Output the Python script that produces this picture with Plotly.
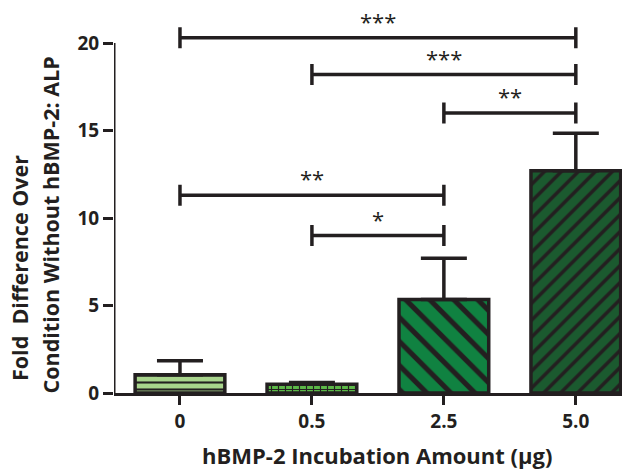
import plotly.graph_objects as go

categories = ["0", "0.5", "2.5", "5.0"]
means = [1.05, 0.5, 5.35, 12.7]
err_up = [0.8, 0.1, 2.35, 2.15]
fill_colors = ["#a8d48c", "#5cb848", "#108241", "#1b5a2f"]
pattern_shapes = ["-", "+", "\\", "/"]
pattern_sizes = [7, 7, 17, 12]

# significance brackets: (left index, right index, y, label)
brackets = [
    (0, 3, 20.3, "***"),
    (1, 3, 18.2, "***"),
    (2, 3, 16.0, "**"),
    (0, 2, 11.3, "**"),
    (1, 2, 9.0, "*"),
]

y_ticks = [0, 5, 10, 15, 20]
x_title = "hBMP-2 Incubation Amount (μg)"
y_title_lines = ["Fold  Difference Over", "Condition Without hBMP-2: ALP"]

INK = "#231f20"
FONT = "Open Sans"

x = list(range(len(categories)))

fig = go.Figure()
for i in x:
    fig.add_trace(go.Bar(
        x=[i], y=[means[i]], width=0.68,
        marker=dict(
            color=fill_colors[i],
            line=dict(color=INK, width=3.5),
            pattern=dict(shape=pattern_shapes[i], size=pattern_sizes[i], solidity=0.3,
                         fgcolor=INK, fgopacity=1, fillmode="overlay"),
        ),
        error_y=dict(type="data", symmetric=False, array=[err_up[i]],
                     arrayminus=[0], color=INK, thickness=3.5, width=23),
    ))

shapes = []
for i0, i1, yv, lab in brackets:
    shapes.append(dict(type="line", x0=i0, x1=i1, y0=yv, y1=yv, xref="x", yref="y",
                       line=dict(color=INK, width=3.5)))
    for xi in (i0, i1):
        shapes.append(dict(type="line", x0=xi, x1=xi, y0=yv - 0.6, y1=yv + 0.6,
                           xref="x", yref="y", line=dict(color=INK, width=3.5)))
# y axis spine from 0 to 20
shapes.append(dict(type="line", x0=-0.5, x1=-0.5, y0=0, y1=y_ticks[-1], xref="x", yref="y",
                   line=dict(color=INK, width=3)))
fig.update_layout(shapes=shapes)

for i0, i1, yv, lab in brackets:
    fig.add_annotation(x=(i0 + i1) / 2, y=yv, xref="x", yref="y", text=lab,
                       showarrow=False, yshift=17,
                       font=dict(family=FONT, size=22, color=INK))

# axis titles (positioned in paper coords relative to plot area 508x385)
fig.add_annotation(x=-95 / 508, y=10 / 385, xref="paper", yref="paper",
                   text="<b>%s</b>" % y_title_lines[0], showarrow=False, textangle=-90,
                   font=dict(family=FONT, size=21.5, color=INK), xanchor="center", yanchor="bottom")
fig.add_annotation(x=-64 / 508, y=-3 / 385, xref="paper", yref="paper",
                   text="<b>%s</b>" % y_title_lines[1], showarrow=False, textangle=-90,
                   font=dict(family=FONT, size=21.5, color=INK), xanchor="center", yanchor="bottom")
fig.add_annotation(x=(377 - 114) / 508, y=-62 / 385, xref="paper", yref="paper",
                   text="<b>%s</b>" % x_title, showarrow=False,
                   font=dict(family=FONT, size=22, color=INK), xanchor="center", yanchor="middle")

fig.update_xaxes(
    range=[-0.5, 3.35], tickvals=x, ticktext=["<b>%s</b>" % c for c in categories],
    showline=True, linecolor=INK, linewidth=3,
    ticks="outside", ticklen=9, tickwidth=3, tickcolor=INK,
    tickfont=dict(family=FONT, size=19, color=INK),
    showgrid=False, zeroline=False,
)
fig.update_yaxes(
    range=[0, 22], tickvals=y_ticks, ticktext=["<b>%d</b>" % t for t in y_ticks],
    showline=False, ticks="outside", ticklen=10, tickwidth=3, tickcolor=INK,
    tickfont=dict(family=FONT, size=19, color=INK),
    showgrid=False, zeroline=False,
)

fig.update_layout(
    width=634, height=472,
    margin=dict(l=114, r=12, t=8, b=79),
    plot_bgcolor="white", paper_bgcolor="white",
    showlegend=False, barmode="overlay",
)

fig.write_html("out.html")
